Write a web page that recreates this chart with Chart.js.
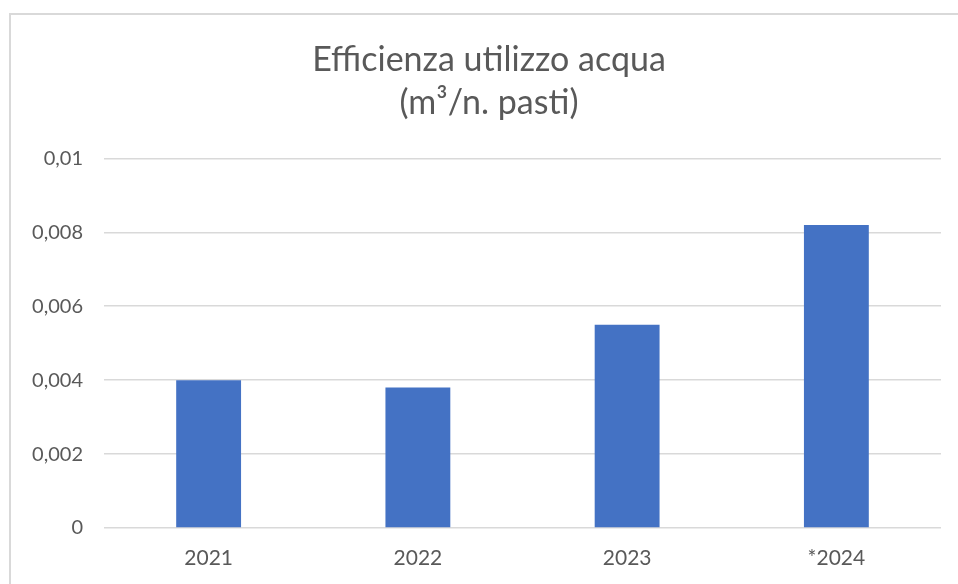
<!DOCTYPE html>
<html>
<head>
<meta charset="utf-8">
<script src="https://cdn.jsdelivr.net/npm/chart.js@4"></script>
<style>
  body { margin: 0; background: #fff; }
  #frame { position: absolute; left: 9px; top: 13px; width: 1000px; height: 620px; border: 2px solid #d9d9d9; }
  #wrap { position: absolute; left: 0; top: 0; width: 958px; height: 584px; }
</style>
</head>
<body>
<div id="frame"></div>
<div id="wrap"><canvas id="myChart"></canvas></div>
<script>
// dati
var anni = ['2021', '2022', '2023', '*2024'];
var valori = [0.0040, 0.0038, 0.0055, 0.0082];
var etichetteY = ['0', '0,002', '0,004', '0,006', '0,008', '0,01'];
var titolo = ['Efficienza utilizzo acqua', '(m³/n. pasti)'];

const ctx = document.getElementById('myChart');

// sposta il titolo un po' a destra, come nell'originale
const spostaTitolo = {
  id: 'spostaTitolo',
  afterLayout: function (chart) {
    if (chart.titleBlock) {
      chart.titleBlock.left = 37;
    }
  }
};

new Chart(ctx, {
  type: 'bar',
  data: {
    labels: anni,
    datasets: [{
      data: valori,
      backgroundColor: '#4472C4',
      categoryPercentage: 1,
      barPercentage: 0.31
    }]
  },
  options: {
    responsive: true,
    maintainAspectRatio: false,
    animation: false,
    layout: { padding: { left: 0, right: 17, top: 0, bottom: 0 } },
    plugins: {
      legend: { display: false },
      tooltip: { enabled: false },
      title: {
        display: true,
        text: titolo,
        color: '#595959',
        font: { family: 'Lato', size: 34, weight: 'normal', lineHeight: 1.27 },
        padding: { top: 38, bottom: 34 }
      }
    },
    scales: {
      x: {
        grid: { display: false },
        border: { display: false },
        ticks: { color: '#595959', font: { family: 'Lato', size: 21 }, padding: 10 },
        afterFit: function (scale) { scale.height = 56; }
      },
      y: {
        min: 0,
        max: 0.01,
        grid: { color: '#d9d9d9', lineWidth: 1.5, drawTicks: false },
        border: { display: false },
        ticks: {
          stepSize: 0.002,
          color: '#595959',
          font: { family: 'Lato', size: 20 },
          padding: 21,
          callback: function (value, index) { return etichetteY[index]; }
        },
        afterFit: function (scale) { scale.width = 104; }
      }
    }
  },
  plugins: [spostaTitolo]
});
</script>
</body>
</html>
